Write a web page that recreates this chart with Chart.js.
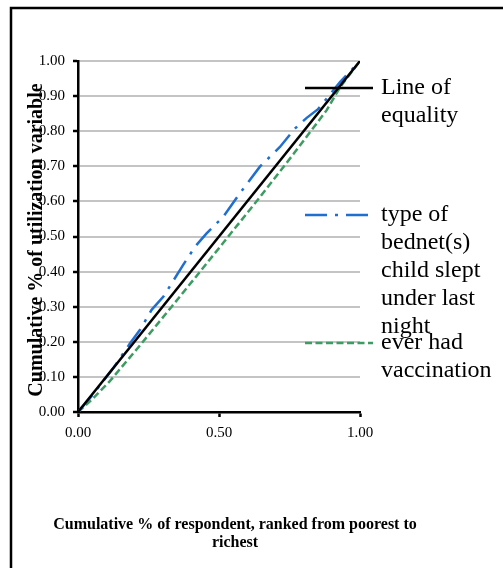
<!DOCTYPE html>
<html>
<head>
<meta charset="utf-8">
<script src="https://cdn.jsdelivr.net/npm/chart.js@4/dist/chart.umd.min.js"></script>
<style>
  html, body { margin: 0; padding: 0; background: #fff; }
  #wrap { width: 503px; height: 568px; position: relative; }
</style>
</head>
<body>
<div id="wrap"><canvas id="c" width="503" height="568"></canvas></div>
<script>
// Concentration curves: cumulative share of respondents (poorest → richest)
// against cumulative share of the utilization variable.
const equalityX = [0, 1];
const equalityY = [0, 1];

const bednetX = [0, 0.043, 0.125, 0.184, 0.22, 0.261, 0.303, 0.373, 0.415, 0.456, 0.515, 0.574, 0.645, 0.716, 0.77, 0.811, 0.85, 0.882, 0.929, 1];
const bednetY = [0, 0.040, 0.125, 0.195, 0.234, 0.291, 0.329, 0.419, 0.471, 0.509, 0.556, 0.623, 0.699, 0.755, 0.808, 0.838, 0.862, 0.893, 0.94, 1];

const vaccX = [0, 0.05, 0.113, 0.22, 0.332, 0.433, 0.533, 0.645, 0.764, 0.882, 0.929, 1];
const vaccY = [0, 0.036, 0.088, 0.19, 0.30, 0.40, 0.50, 0.612, 0.735, 0.86, 0.925, 1];

const yTicks = [0, 0.1, 0.2, 0.3, 0.4, 0.5, 0.6, 0.7, 0.8, 0.9, 1.0];
const xTicks = [0, 0.5, 1.0];

const legendEntries = [
  { label: ['Line of', 'equality'], color: '#000000', dash: [], y: 88 },
  { label: ['type of', 'bednet(s)', 'child slept', 'under last', 'night'], color: '#1f6fd0', dash: [22, 8, 3, 8], y: 215 },
  { label: ['ever had', 'vaccination'], color: '#3d9c62', dash: [7, 3.5], y: 343 }
];

const xTitle = ['Cumulative % of respondent, ranked from poorest to', 'richest'];
const yTitle = 'Cumulative % of utilization variable';

const pts = (xs, ys) => xs.map((x, i) => ({ x, y: ys[i] }));

const serif = '"Liberation Serif", "Times New Roman", serif';

const decor = {
  id: 'decor',
  beforeDraw(chart) {
    const ctx = chart.ctx;
    ctx.save();
    ctx.fillStyle = '#fff';
    ctx.fillRect(0, 0, chart.width, chart.height);
    // outer frame
    ctx.strokeStyle = '#000';
    ctx.lineWidth = 2.5;
    ctx.strokeRect(11, 8, 600, 700);
    ctx.restore();
  },
  afterDraw(chart) {
    const ctx = chart.ctx;
    ctx.save();
    // legend
    legendEntries.forEach(e => {
      ctx.strokeStyle = e.color;
      ctx.lineWidth = 2.5;
      ctx.setLineDash(e.dash);
      ctx.beginPath();
      ctx.moveTo(305, e.y);
      ctx.lineTo(373, e.y);
      ctx.stroke();
      ctx.setLineDash([]);
      ctx.fillStyle = '#000';
      ctx.font = '24px ' + serif;
      ctx.textBaseline = 'middle';
      ctx.textAlign = 'left';
      e.label.forEach((t, i) => ctx.fillText(t, 381, e.y + i * 28));
    });
    // axis titles
    ctx.fillStyle = '#000';
    ctx.font = 'bold 16px ' + serif;
    ctx.textAlign = 'center';
    ctx.textBaseline = 'middle';
    xTitle.forEach((t, i) => ctx.fillText(t, 235, 525 + i * 18));
    ctx.translate(37, 240);
    ctx.rotate(-Math.PI / 2);
    ctx.font = 'bold 20px ' + serif;
    ctx.fillText(yTitle, 0, 0);
    ctx.restore();
  }
};

new Chart(document.getElementById('c'), {
  type: 'scatter',
  data: {
    datasets: [
      { label: 'Line of equality', data: pts(equalityX, equalityY), borderColor: '#000', borderWidth: 2.5, showLine: true, pointRadius: 0 },
      { label: 'type of bednet(s) child slept under last night', data: pts(bednetX, bednetY), borderColor: '#1f6fd0', borderWidth: 2.5, borderDash: [22, 8, 3, 8], showLine: true, pointRadius: 0 },
      { label: 'ever had vaccination', data: pts(vaccX, vaccY), borderColor: '#3d9c62', borderWidth: 2.5, borderDash: [7, 3.5], showLine: true, pointRadius: 0 }
    ]
  },
  options: {
    responsive: false,
    animation: false,
    layout: { padding: { left: 38, right: 143, top: 61, bottom: 126 } },
    plugins: { legend: { display: false }, tooltip: { enabled: false } },
    scales: {
      x: {
        type: 'linear', min: 0, max: 1,
        afterFit(s) { s.height = 30; },
        afterBuildTicks(s) { s.ticks = xTicks.map(v => ({ value: v })); },
        grid: { drawOnChartArea: false, drawTicks: true, tickLength: 5, tickColor: '#000', tickWidth: 2.5 },
        border: { color: '#000', width: 2.5 },
        ticks: { color: '#000', padding: 7, font: { family: serif, size: 15 }, callback: v => v.toFixed(2), maxRotation: 0 }
      },
      y: {
        type: 'linear', min: 0, max: 1,
        afterFit(s) { s.width = 40; },
        afterBuildTicks(s) { s.ticks = yTicks.map(v => ({ value: v })); },
        grid: { color: '#c4c4c4', lineWidth: 2, drawTicks: true, tickLength: 5, tickColor: '#000', tickWidth: 2.5 },
        border: { color: '#000', width: 2.5 },
        ticks: { color: '#000', padding: 8, font: { family: serif, size: 15 }, callback: v => v.toFixed(2) }
      }
    }
  },
  plugins: [decor]
});
</script>
</body>
</html>
